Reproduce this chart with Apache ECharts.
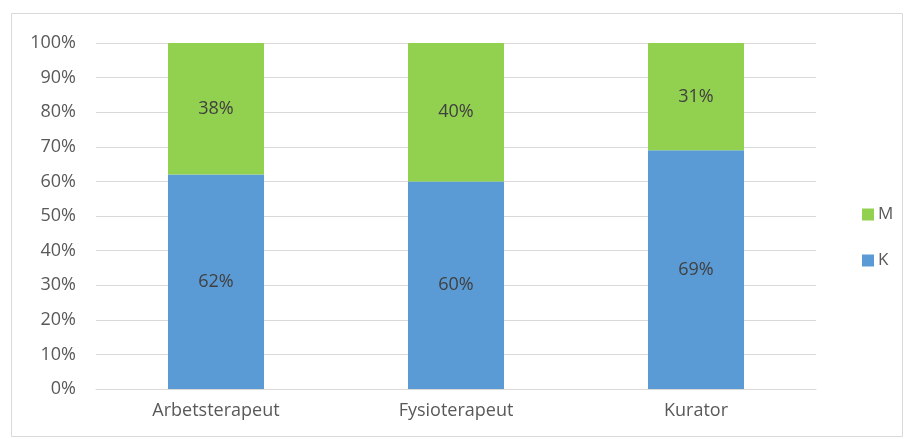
<!DOCTYPE html>
<html>
<head>
<meta charset="utf-8">
<script src="https://cdn.jsdelivr.net/npm/echarts@6/dist/echarts.min.js"></script>
<style>
  html, body { margin: 0; padding: 0; background: #fff; }
  #chart { width: 905px; height: 439px; }
</style>
</head>
<body>
<div id="chart"></div>
<script>
// data
const categories = ["Arbetsterapeut", "Fysioterapeut", "Kurator"];
const kValues = [62, 60, 69];
const mValues = [38, 40, 31];
const yTicks = [0, 10, 20, 30, 40, 50, 60, 70, 80, 90, 100];

const fontFamily = "'Open Sans', 'Noto Sans', sans-serif";
const textColor = "#595959";

const chart = echarts.init(document.getElementById("chart"));

const option = {
  animation: false,
  textStyle: { fontFamily: fontFamily },
  graphic: [
    {
      type: "rect",
      shape: { x: 11.5, y: 13.5, width: 891, height: 423 },
      style: { fill: "none", stroke: "#d9d9d9", lineWidth: 1 },
      silent: true,
    },
  ],
  grid: { left: 96, right: 89, top: 43, bottom: 50 },
  legend: {
    data: ["M", "K"],
    orient: "vertical",
    left: 857,
    top: 201,
    icon: "rect",
    itemWidth: 12,
    itemHeight: 12,
    itemGap: 29,
    itemStyle: { borderWidth: 0 },
    textStyle: { color: textColor, fontSize: 17, fontFamily: fontFamily, padding: [0, 0, 0, -1] },
  },
  xAxis: {
    type: "category",
    data: categories,
    axisLine: { lineStyle: { color: "#d9d9d9" } },
    axisTick: { show: false },
    axisLabel: { color: textColor, fontSize: 18, margin: 13, fontFamily: fontFamily },
  },
  yAxis: {
    type: "value",
    min: yTicks[0],
    max: yTicks[yTicks.length - 1],
    interval: 10,
    axisLine: { show: false },
    axisTick: { show: false },
    splitLine: { lineStyle: { color: "#d9d9d9", width: 1 } },
    axisLabel: {
      color: textColor,
      fontSize: 18,
      margin: 20,
      fontFamily: fontFamily,
      formatter: "{value}%",
    },
  },
  series: [
    {
      name: "K",
      type: "bar",
      stack: "total",
      barWidth: "40%",
      data: kValues,
      itemStyle: { color: "#5b9bd5" },
      label: {
        show: true,
        position: "inside",
        formatter: "{c}%",
        color: "#404040",
        fontSize: 18,
        fontFamily: fontFamily,
      },
    },
    {
      name: "M",
      type: "bar",
      stack: "total",
      barWidth: "40%",
      data: mValues,
      itemStyle: { color: "#92d050" },
      label: {
        show: true,
        position: "inside",
        formatter: "{c}%",
        color: "#404040",
        fontSize: 18,
        fontFamily: fontFamily,
      },
    },
  ],
};

chart.setOption(option);
</script>
</body>
</html>
